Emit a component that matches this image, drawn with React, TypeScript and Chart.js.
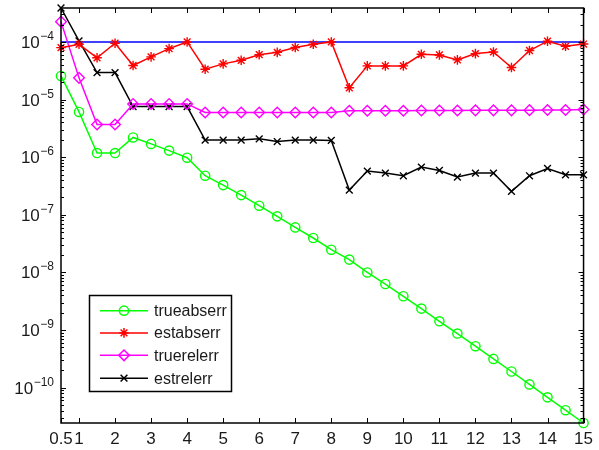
import React, { useEffect, useRef } from 'react';
import { Chart, registerables } from 'chart.js';

Chart.register(...registerables);

const xValues = [0.5, 1, 1.5, 2, 2.5, 3, 3.5, 4, 4.5, 5, 5.5, 6, 6.5, 7, 7.5, 8, 8.5, 9, 9.5, 10, 10.5, 11, 11.5, 12, 12.5, 13, 13.5, 14, 14.5, 15];
const xTickValues = [0.5, 1, 2, 3, 4, 5, 6, 7, 8, 9, 10, 11, 12, 13, 14, 15];
const yDecades = [-10, -9, -8, -7, -6, -5, -4];

const trueabserr = [2.57e-5, 6.1e-6, 1.18e-6, 1.18e-6, 2.2e-6, 1.7e-6, 1.3e-6, 9.8e-7, 4.77e-7, 3.28e-7, 2.2e-7, 1.44e-7, 9.4e-8, 6.05e-8, 3.96e-8, 2.48e-8, 1.67e-8, 1.0e-8, 6.3e-9, 3.86e-9, 2.36e-9, 1.42e-9, 8.7e-10, 5.25e-10, 3.16e-10, 1.91e-10, 1.14e-10, 6.8e-11, 4.07e-11, 2.44e-11];
const estabserr = [7.96e-5, 9.1e-5, 5.3e-5, 9.5e-5, 3.9e-5, 5.5e-5, 7.65e-5, 1.0e-4, 3.36e-5, 4.16e-5, 4.8e-5, 6.0e-5, 6.6e-5, 8.0e-5, 9.1e-5, 1.0e-4, 1.6e-5, 3.84e-5, 3.84e-5, 3.84e-5, 6.1e-5, 5.95e-5, 4.88e-5, 6.28e-5, 6.7e-5, 3.59e-5, 7.1e-5, 1.03e-4, 8.4e-5, 9.2e-5];
const truerelerr = [2.25e-4, 2.38e-5, 3.69e-6, 3.69e-6, 8.4e-6, 8.4e-6, 8.4e-6, 8.4e-6, 5.96e-6, 5.96e-6, 5.96e-6, 5.96e-6, 5.96e-6, 5.96e-6, 5.96e-6, 5.96e-6, 6.37e-6, 6.4e-6, 6.4e-6, 6.4e-6, 6.45e-6, 6.45e-6, 6.45e-6, 6.5e-6, 6.5e-6, 6.5e-6, 6.55e-6, 6.6e-6, 6.6e-6, 6.7e-6];
const estrelerr = [3.88e-4, 1.04e-4, 2.94e-5, 2.94e-5, 7.57e-6, 7.57e-6, 7.57e-6, 7.57e-6, 1.98e-6, 1.98e-6, 1.98e-6, 2.08e-6, 1.87e-6, 1.98e-6, 1.98e-6, 1.95e-6, 2.69e-7, 5.74e-7, 5.3e-7, 4.76e-7, 6.73e-7, 5.89e-7, 4.52e-7, 5.3e-7, 5.3e-7, 2.55e-7, 4.76e-7, 6.38e-7, 4.95e-7, 4.95e-7];
const tolerance = 1e-4;

const seriesNames = ['trueabserr', 'estabserr', 'truerelerr', 'estrelerr'];
const seriesColors = ['rgb(0,255,0)', 'rgb(255,0,0)', 'rgb(255,0,255)', 'rgb(0,0,0)'];
const seriesMarkers = ['circle', 'star', 'rectRot', 'crossRot'];
const seriesRadius = [4.6, 4.8, 5.3, 4.8];
const seriesValues = [trueabserr, estabserr, truerelerr, estrelerr];

const FONT = '"Liberation Sans", Arial, Helvetica, sans-serif';
const TEXT = '#1a1a1a';

function drawMarker(ctx: CanvasRenderingContext2D, style: string, x: number, y: number, r: number) {
  ctx.beginPath();
  if (style === 'circle') {
    ctx.arc(x, y, r, 0, Math.PI * 2);
  } else if (style === 'rectRot') {
    ctx.moveTo(x, y - r);
    ctx.lineTo(x + r, y);
    ctx.lineTo(x, y + r);
    ctx.lineTo(x - r, y);
    ctx.closePath();
  } else if (style === 'crossRot') {
    const d = r * Math.SQRT1_2;
    ctx.moveTo(x - d, y - d);
    ctx.lineTo(x + d, y + d);
    ctx.moveTo(x - d, y + d);
    ctx.lineTo(x + d, y - d);
  } else if (style === 'star') {
    const d = r * Math.SQRT1_2;
    ctx.moveTo(x - d, y - d);
    ctx.lineTo(x + d, y + d);
    ctx.moveTo(x - d, y + d);
    ctx.lineTo(x + d, y - d);
    ctx.moveTo(x, y - r);
    ctx.lineTo(x, y + r);
    ctx.moveTo(x - r, y);
    ctx.lineTo(x + r, y);
  }
  ctx.stroke();
}

const matlabPlugin = {
  id: 'matlabAxes',
  afterDraw(chart: any) {
    const { ctx, chartArea: a, scales } = chart;
    const xs = scales.x;
    const ys = scales.y;
    ctx.save();
    ctx.strokeStyle = '#000';
    ctx.lineWidth = 1.5;
    // box
    ctx.strokeRect(a.left, a.top, a.right - a.left, a.bottom - a.top);
    ctx.lineWidth = 1;
    // x ticks inward, top & bottom
    ctx.beginPath();
    for (const v of xTickValues) {
      const px = Math.round(xs.getPixelForValue(v)) + 0.5;
      ctx.moveTo(px, a.bottom);
      ctx.lineTo(px, a.bottom - 5);
      ctx.moveTo(px, a.top);
      ctx.lineTo(px, a.top + 5);
    }
    ctx.stroke();
    // y ticks (major + minor) inward, left & right
    ctx.beginPath();
    for (let k = -11; k <= -3; k++) {
      for (let m = 1; m <= 9; m++) {
        const v = m * Math.pow(10, k);
        if (v < ys.min || v > ys.max) continue;
        const py = Math.round(ys.getPixelForValue(v)) + 0.5;
        const len = m === 1 ? 5 : 3;
        ctx.moveTo(a.left, py);
        ctx.lineTo(a.left + len, py);
        ctx.moveTo(a.right, py);
        ctx.lineTo(a.right - len, py);
      }
    }
    ctx.stroke();
    // y labels 10^k
    ctx.fillStyle = TEXT;
    ctx.textBaseline = 'alphabetic';
    for (const k of yDecades) {
      const py = ys.getPixelForValue(Math.pow(10, k));
      const sup = '\u2212' + String(-k);
      ctx.font = `12px ${FONT}`;
      const supW = ctx.measureText(sup).width;
      const right = a.left - 7;
      ctx.textAlign = 'right';
      ctx.fillText(sup, right, py - 2);
      ctx.font = `17px ${FONT}`;
      ctx.fillText('10', right - supW - 0.5, py + 6);
    }
    // legend
    const bx = 89.5, by = 295.5, bw = 142, bh = 96;
    ctx.fillStyle = '#fff';
    ctx.fillRect(bx, by, bw, bh);
    ctx.strokeStyle = '#000';
    ctx.lineWidth = 1.5;
    ctx.strokeRect(bx, by, bw, bh);
    const rows = [310.7, 332.9, 355.3, 378.2];
    ctx.font = `16px ${FONT}`;
    ctx.textAlign = 'left';
    ctx.textBaseline = 'middle';
    seriesNames.forEach((name, i) => {
      const ry = rows[i];
      ctx.strokeStyle = seriesColors[i];
      ctx.lineWidth = 1.5;
      ctx.beginPath();
      ctx.moveTo(100, ry);
      ctx.lineTo(148, ry);
      ctx.stroke();
      drawMarker(ctx, seriesMarkers[i], 124, ry, seriesRadius[i]);
      ctx.fillStyle = TEXT;
      ctx.fillText(name, 154, ry + 1);
    });
    ctx.restore();
  },
};

export default function App() {
  const canvasRef = useRef<HTMLCanvasElement | null>(null);

  useEffect(() => {
    const canvas = canvasRef.current;
    if (!canvas) return;
    const all = [...trueabserr, ...estabserr, ...truerelerr, ...estrelerr];
    const yMin = Math.min(...all);
    const yMax = Math.max(...all);

    const datasets: any[] = seriesNames.map((name, i) => ({
      label: name,
      data: xValues.map((x, j) => ({ x, y: seriesValues[i][j] })),
      borderColor: seriesColors[i],
      backgroundColor: 'rgba(0,0,0,0)',
      pointBackgroundColor: 'rgba(0,0,0,0)',
      pointBorderColor: seriesColors[i],
      pointStyle: seriesMarkers[i],
      pointRadius: seriesRadius[i],
      pointBorderWidth: 1.4,
      borderWidth: 1.5,
      tension: 0,
      clip: false,
    }));
    datasets.push({
      label: 'tolerance',
      data: [
        { x: xValues[0], y: tolerance },
        { x: xValues[xValues.length - 1], y: tolerance },
      ],
      borderColor: 'rgb(0,0,255)',
      borderWidth: 1.5,
      pointRadius: 0,
      tension: 0,
      clip: false,
    });

    const chart = new Chart(canvas, {
      type: 'line',
      data: { datasets },
      options: {
        animation: false,
        responsive: true,
        maintainAspectRatio: false,
        layout: { padding: { top: 8, right: 11, left: 0, bottom: 0 } },
        plugins: { legend: { display: false }, tooltip: { enabled: false } },
        scales: {
          x: {
            type: 'linear',
            min: 0.5,
            max: 15,
            grid: { display: false, drawTicks: false },
            border: { display: false },
            afterBuildTicks: (axis: any) => {
              axis.ticks = xTickValues.map((v) => ({ value: v }));
            },
            afterFit: (s: any) => {
              s.height = 27;
            },
            ticks: {
              autoSkip: false,
              maxRotation: 0,
              padding: 6,
              color: TEXT,
              font: { family: FONT, size: 17 },
              callback: (v: any) => String(v),
            },
          },
          y: {
            type: 'logarithmic',
            min: yMin,
            max: yMax,
            grid: { display: false, drawTicks: false },
            border: { display: false },
            ticks: { display: false },
            afterFit: (s: any) => {
              s.width = 61;
            },
          },
        },
      },
      plugins: [matlabPlugin],
    });
    return () => chart.destroy();
  }, []);

  return (
    <div style={{ position: 'fixed', left: 0, top: 0, width: 599, height: 450, background: '#fff' }}>
      <canvas ref={canvasRef} />
    </div>
  );
}
